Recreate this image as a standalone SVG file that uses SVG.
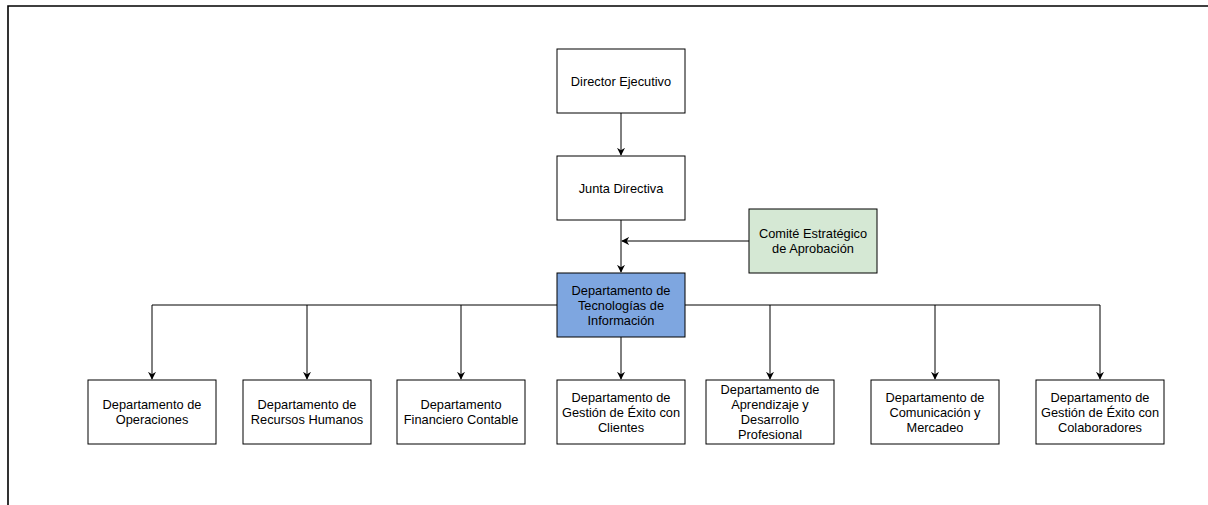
<svg xmlns="http://www.w3.org/2000/svg" width="1208" height="505" viewBox="0 0 1208 505">
  <style>
    .box { fill: #ffffff; stroke: #000000; stroke-width: 1; }
    .green { fill: #d5e8d4; }
    .blue { fill: #7ea6e0; }
    .lbl { font-family: "Liberation Sans", Arial, Helvetica, sans-serif; font-size: 12.8px; fill: #000000; text-anchor: middle; }
    .edge { fill: none; stroke: #000000; stroke-width: 1; }
    .frame { fill: none; stroke: #000000; stroke-width: 1.6; }
  </style>
  <defs>
    <marker id="arrow" viewBox="0 0 10 10" refX="9" refY="5" markerWidth="8" markerHeight="8" markerUnits="userSpaceOnUse" orient="auto">
      <path d="M0,0 L10,5 L0,10 L3,5 Z" fill="#000000"/>
    </marker>
  </defs>

  <rect width="1208" height="505" fill="#ffffff"/>
  <!-- page border -->
  <path class="frame" d="M8,505 L8,6 L1208,6"/>

  <g id="connectors">
    <path class="edge" d="M621,113 L621,155" marker-end="url(#arrow)"/>
    <path class="edge" d="M621,220 L621,272" marker-end="url(#arrow)"/>
    <path class="edge" d="M749,241 L622,241" marker-end="url(#arrow)"/>
    <path class="edge" d="M557,305 L152,305 L152,379" marker-end="url(#arrow)"/>
    <path class="edge" d="M307,305 L307,379" marker-end="url(#arrow)"/>
    <path class="edge" d="M461,305 L461,379" marker-end="url(#arrow)"/>
    <path class="edge" d="M621,337 L621,379" marker-end="url(#arrow)"/>
    <path class="edge" d="M685,305 L1100,305 L1100,379" marker-end="url(#arrow)"/>
    <path class="edge" d="M770,305 L770,379" marker-end="url(#arrow)"/>
    <path class="edge" d="M935,305 L935,379" marker-end="url(#arrow)"/>
  </g>

  <g id="director-ejecutivo">
    <rect class="box" x="557" y="49" width="128" height="64"/>
    <text class="lbl" x="621" y="85.5">Director Ejecutivo</text>
  </g>

  <g id="junta-directiva">
    <rect class="box" x="557" y="156" width="128" height="64"/>
    <text class="lbl" x="621" y="192.5">Junta Directiva</text>
  </g>

  <g id="comite-estrategico">
    <rect class="box green" x="749" y="209" width="128" height="64"/>
    <text class="lbl" x="813" y="238">Comité Estratégico</text>
    <text class="lbl" x="813" y="253">de Aprobación</text>
  </g>

  <g id="dep-tecnologias">
    <rect class="box blue" x="557" y="273" width="128" height="64"/>
    <text class="lbl" x="621" y="295">Departamento de</text>
    <text class="lbl" x="621" y="310">Tecnologías de</text>
    <text class="lbl" x="621" y="325">Información</text>
  </g>

  <g id="dep-operaciones">
    <rect class="box" x="88" y="380" width="128" height="64"/>
    <text class="lbl" x="152" y="409">Departamento de</text>
    <text class="lbl" x="152" y="424">Operaciones</text>
  </g>

  <g id="dep-recursos-humanos">
    <rect class="box" x="243" y="380" width="128" height="64"/>
    <text class="lbl" x="307" y="409">Departamento de</text>
    <text class="lbl" x="307" y="424">Recursos Humanos</text>
  </g>

  <g id="dep-financiero">
    <rect class="box" x="397" y="380" width="128" height="64"/>
    <text class="lbl" x="461" y="409">Departamento</text>
    <text class="lbl" x="461" y="424">Financiero Contable</text>
  </g>

  <g id="dep-exito-clientes">
    <rect class="box" x="557" y="380" width="128" height="64"/>
    <text class="lbl" x="621" y="402">Departamento de</text>
    <text class="lbl" x="621" y="417">Gestión de Éxito con</text>
    <text class="lbl" x="621" y="432">Clientes</text>
  </g>

  <g id="dep-aprendizaje">
    <rect class="box" x="706" y="380" width="128" height="64"/>
    <text class="lbl" x="770" y="394">Departamento de</text>
    <text class="lbl" x="770" y="409">Aprendizaje y</text>
    <text class="lbl" x="770" y="424">Desarrollo</text>
    <text class="lbl" x="770" y="439">Profesional</text>
  </g>

  <g id="dep-comunicacion">
    <rect class="box" x="871" y="380" width="128" height="64"/>
    <text class="lbl" x="935" y="402">Departamento de</text>
    <text class="lbl" x="935" y="417">Comunicación y</text>
    <text class="lbl" x="935" y="432">Mercadeo</text>
  </g>

  <g id="dep-exito-colaboradores">
    <rect class="box" x="1036" y="380" width="128" height="64"/>
    <text class="lbl" x="1100" y="402">Departamento de</text>
    <text class="lbl" x="1100" y="417">Gestión de Éxito con</text>
    <text class="lbl" x="1100" y="432">Colaboradores</text>
  </g>
</svg>
